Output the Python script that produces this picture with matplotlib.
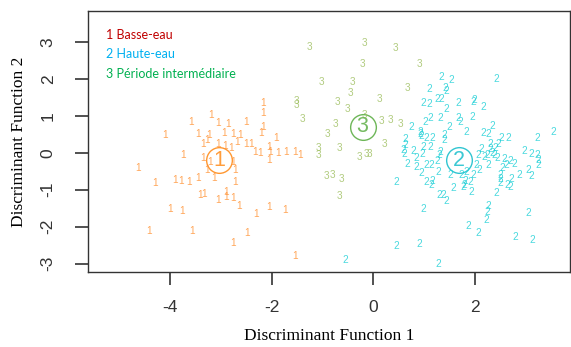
import matplotlib
matplotlib.use('Agg')
import matplotlib.pyplot as plt

plt.rcParams['axes.unicode_minus'] = False

# Discriminant scores, one pair of lists per group
g1_x = [-2.17, -2.17, -3.20, -3.60, -3.06, -2.86, -2.51, -2.17, -4.11, -3.45,
        -3.23, -2.94, -2.76, -2.63, -2.22, -1.91, -3.36, -3.27, -3.06, -2.93,
        -2.69, -2.81, -2.51, -2.40, -2.33, -2.23, -2.05, -2.04, -1.87, -1.71,
        -1.54, -1.45, -3.75, -3.36, -2.05, -4.64, -3.22, -2.76, -2.73, -3.27,
        -3.45, -3.14, -2.73, -4.31, -3.91, -3.78, -3.63, -3.42, -3.34, -3.06,
        -2.91, -2.91, -2.76, -2.65, -4.00, -3.77, -2.31, -2.05, -1.74, -4.42,
        -3.57, -2.49, -2.76, -1.54]
g1_y = [1.34, 1.08, 1.02, 0.84, 0.81, 0.77, 0.84, 0.69, 0.48, 0.50,
        0.48, 0.53, 0.51, 0.48, 0.53, 0.41, 0.25, 0.36, 0.23, 0.18,
        0.30, 0.12, 0.24, 0.25, 0.03, 0.00, 0.16, 0.03, 0.00, 0.03,
        0.03, -0.06, -0.06, -0.15, -0.20, -0.42, -0.24, -0.24, -0.47, -0.47,
        -0.69, -0.69, -0.79, -0.83, -0.74, -0.76, -0.79, -1.15, -1.12, -1.28,
        -1.06, -1.19, -1.22, -1.44, -1.51, -1.57, -1.67, -1.46, -1.55, -2.12,
        -2.12, -2.16, -2.44, -2.80]

g2_x = [1.35, 1.55, 1.10, 1.43, 1.45, 1.26, 1.35, 1.68, 0.99, 1.10,
        1.45, 1.97, 1.13, 1.32, 1.68, 1.71, 1.03, 0.76, 1.50, 1.84,
        1.96, 0.93, 0.95, 1.05, 1.17, 1.41, 1.41, 0.63, 0.64, 0.59,
        0.61, 0.79, 0.99, 1.12, 1.32, 0.97, 0.84, 0.67, 0.84, 1.05,
        1.15, 1.26, 1.30, 0.95, 1.28, 1.53, 1.74, 1.83, 0.45, 1.04,
        1.17, 1.15, 1.57, 1.79, 1.81, 1.92, 1.30, 1.39, 1.45, 0.99,
        1.87, 0.45, 0.91, 1.28, -0.56, 2.43, 1.99, 2.17, 2.34, 2.17,
        2.27, 2.53, 2.66, 3.24, 3.55, 2.47, 2.30, 2.14, 2.30, 2.39,
        2.07, 2.20, 2.99, 3.12, 3.24, 3.25, 3.25, 2.58, 2.70, 2.79,
        2.63, 2.04, 2.28, 2.10, 1.97, 2.54, 2.50, 2.89, 3.06, 3.11,
        2.50, 2.73, 2.65, 2.50, 1.94, 2.43, 2.27, 2.26, 2.24, 3.05,
        2.07, 2.81, 3.14, 2.35, 2.40, 2.25, 2.45, 0.93, 1.78, 2.70]
g2_y = [2.06, 1.97, 1.73, 1.75, 1.67, 1.47, 1.46, 1.34, 1.34, 1.31,
        1.20, 1.38, 0.95, 0.95, 0.95, 0.84, 0.84, 0.70, 0.70, 0.57,
        0.98, 0.57, 0.45, 0.39, 0.41, 0.34, 0.48, 0.37, 0.21, 0.07,
        -0.04, 0.05, 0.16, 0.16, 0.03, -0.04, -0.14, -0.29, -0.38, -0.33,
        -0.33, -0.22, -0.06, -0.56, -0.51, -0.59, -0.60, -0.53, -0.79, -0.80,
        -0.77, -0.88, -0.95, -0.88, -0.77, -0.80, -1.13, -1.13, -1.31, -1.53,
        -1.99, -2.52, -2.48, -3.00, -2.91, 2.00, 1.43, 1.23, 0.73, 0.53,
        0.51, 0.41, 0.41, 0.41, 0.57, 0.23, 0.25, 0.10, 0.10, -0.06,
        -0.06, -0.11, 0.05, -0.02, -0.06, -0.20, -0.33, -0.17, -0.22, -0.29,
        -0.33, -0.33, -0.33, -0.47, -0.60, -0.42, -0.59, -0.60, -0.47, -0.62,
        -0.71, -0.71, -0.88, -0.83, -1.06, -1.10, -1.44, -1.60, -1.82, -1.62,
        -2.16, -2.28, -2.37, 0.00, 0.12, -0.05, -0.15, 0.52, -0.92, -0.92]

g3_x = [-1.25, -0.18, 0.43, -0.22, 0.92, -1.02, -0.41, 0.68, -0.45, 0.13,
        -1.51, -1.51, -0.71, -0.51, -1.40, -0.74, -0.18, 0.17, 0.35, 0.53,
        -0.91, 0.23, -0.66, -1.08, -1.08, -0.28, -0.14, -0.07, -0.92, -0.80,
        -0.62, -0.66]
g3_y = [2.87, 2.98, 2.83, 2.42, 2.42, 1.91, 1.91, 1.77, 1.61, 1.47,
        1.41, 1.29, 1.37, 1.20, 0.91, 0.78, 1.02, 0.87, 0.89, 0.78,
        0.50, 0.25, 0.12, 0.12, -0.06, -0.11, -0.04, -0.04, -0.62, -0.59,
        -0.72, -1.17]

# group means
centroid_x = [-3.04, 1.69, -0.21]
centroid_y = [-0.20, -0.20, 0.70]

group_labels = ['1', '2', '3']
legend_text = ['1 Basse-eau', '2 Haute-eau', '3 Période intermédiaire']
legend_colors = ['#C00000', '#00B0F0', '#00B050']

point_colors = ['#FF8F2E', '#1CCFD6', '#9DBE5E']
centroid_colors = ['#FF8C1A', '#1ABFCC', '#5DAE45']

fig = plt.figure(figsize=(5.71, 3.47), dpi=100)
ax = fig.add_axes([0.1546, 0.2161, 0.8434, 0.7529])

groups = [(g1_x, g1_y), (g2_x, g2_y), (g3_x, g3_y)]
for i, (gx, gy) in enumerate(groups):
    for x, y in zip(gx, gy):
        ax.text(x, y, group_labels[i], color=point_colors[i], alpha=0.8,
                fontsize=7.2, ha='center', va='center', family='Liberation Sans')

for i in range(3):
    ax.plot(centroid_x[i], centroid_y[i], marker='o', markersize=18.5,
            markerfacecolor='none', markeredgecolor=centroid_colors[i],
            markeredgewidth=1.0, alpha=0.9)
    ax.text(centroid_x[i], centroid_y[i], group_labels[i], color=centroid_colors[i],
            alpha=0.85, fontsize=15.5, ha='center', va='center', family='Liberation Sans')

ax.set_xlim(-5.62, 3.88)
ax.set_ylim(-3.23, 3.85)
ax.set_xticks([-4, -2, 0, 2])
ax.set_yticks([-3, -2, -1, 0, 1, 2, 3])
ax.tick_params(length=9.5, width=1.2, color='#333333', labelcolor='#333333',
               labelsize=12.5)
ax.tick_params(axis='x', pad=11)
ax.tick_params(axis='y', pad=14)
for lab in ax.get_xticklabels() + ax.get_yticklabels():
    lab.set_family('Liberation Sans')
for lab in ax.get_yticklabels():
    lab.set_rotation(90)
    lab.set_va('center')
for sp in ax.spines.values():
    sp.set_color('#333333')
    sp.set_linewidth(1.0)

ax.set_xlabel('Discriminant Function 1', family='Liberation Serif', fontsize=12.5,
              labelpad=9)
ax.set_ylabel('Discriminant Function 2', family='Liberation Serif', fontsize=12.5,
              labelpad=10)

# legend drawn as plain coloured text, top left
for i, txt in enumerate(legend_text):
    fig.text(106 / 571, 1 - (35 + 19.5 * i) / 347, txt, color=legend_colors[i],
             fontsize=9, family='Lato', va='center', ha='left')

fig.savefig('out.png', dpi=100)
